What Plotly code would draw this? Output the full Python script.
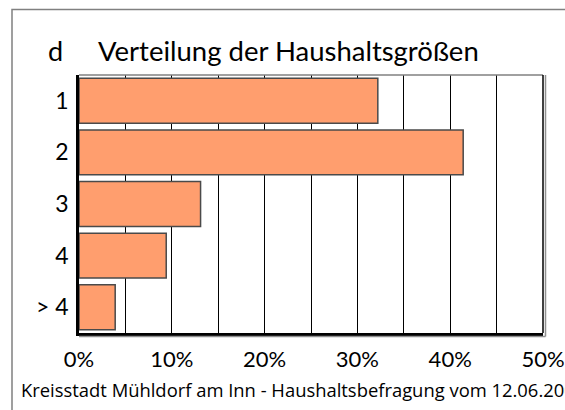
import plotly.graph_objects as go

categories = ["1", "2", "3", "4", "> 4"]
shares = [32.2, 41.4, 13.1, 9.4, 3.9]
tick_values = [0, 5, 10, 15, 20, 25, 30, 35, 40, 45, 50]
tick_labels = ["0%", "", "10%", "", "20%", "", "30%", "", "40%", "", "50%"]

FONT = "Lato"
W, H = 565, 410
L, R, T, B = 79, 22, 75, 77
pw, ph = W - L - R, H - T - B


def px_x(x):
    return (x - L) / pw


def px_y(y):
    return (H - B - y) / ph


fig = go.Figure()
fig.add_trace(go.Bar(
    x=shares,
    y=categories,
    orientation="h",
    marker=dict(color="#FF9E6E", line=dict(color="#4a4a4a", width=1.5)),
    hoverinfo="skip",
))

fig.update_layout(
    width=W, height=H,
    margin=dict(l=L, r=R, t=T, b=B),
    paper_bgcolor="white",
    plot_bgcolor="white",
    showlegend=False,
    bargap=0.13,
    font=dict(family=FONT, color="black"),
)

fig.update_xaxes(
    range=[0, 50],
    tickvals=tick_values,
    ticktext=tick_labels,
    showgrid=True, gridcolor="black", gridwidth=1,
    zeroline=False, automargin=False,
    showline=True, linecolor="black", linewidth=2.5,
    ticks="", ticklabelstandoff=5,
    tickfont=dict(size=22, family=FONT),
)
fig.update_yaxes(
    autorange="reversed",
    showgrid=False, zeroline=False, automargin=False,
    showline=True, linecolor="black", linewidth=2.5,
    ticks="", ticklabelstandoff=3,
    tickfont=dict(size=23, family=FONT),
)

# plot area border: grey top, double line on right and bottom
fig.add_shape(type="line", xref="paper", yref="paper", x0=0, x1=1, y0=1, y1=1,
              line=dict(color="#808080", width=1.5))
fig.add_shape(type="line", xref="paper", yref="paper", x0=1, x1=1, y0=0, y1=1,
              line=dict(color="black", width=1.5))
fig.add_shape(type="line", xref="paper", yref="paper", x0=px_x(545.5), x1=px_x(545.5),
              y0=px_y(336.5), y1=1, line=dict(color="#909090", width=1.5))
fig.add_shape(type="line", xref="paper", yref="paper", x0=0, x1=px_x(545.5),
              y0=px_y(336.5), y1=px_y(336.5), line=dict(color="#909090", width=1.5))

# outer frame
fig.add_shape(type="rect", xref="paper", yref="paper",
              x0=px_x(12), x1=px_x(700), y0=px_y(500), y1=px_y(9.5),
              line=dict(color="#808080", width=1.5), fillcolor="rgba(0,0,0,0)", layer="below")

fig.add_annotation(text="d", xref="paper", yref="paper", x=px_x(55.5), y=px_y(50),
                   xanchor="center", yanchor="middle", showarrow=False,
                   font=dict(size=27, family=FONT))
fig.add_annotation(text="Verteilung der Haushaltsgrößen", xref="paper", yref="paper",
                   x=px_x(96), y=px_y(50), xanchor="left", yanchor="middle", showarrow=False,
                   font=dict(size=27.5, family=FONT))
fig.add_annotation(text="Kreisstadt Mühldorf am Inn - Haushaltsbefragung vom 12.06.2001",
                   xref="paper", yref="paper", x=px_x(19), y=px_y(389),
                   xanchor="left", yanchor="middle", showarrow=False,
                   font=dict(size=18.4, family="Open Sans"))

# drop the default page margin so the figure sits at the window's corner
fig.write_html("out.html", config={"displayModeBar": False},
               post_script="document.body.style.margin='0';")
